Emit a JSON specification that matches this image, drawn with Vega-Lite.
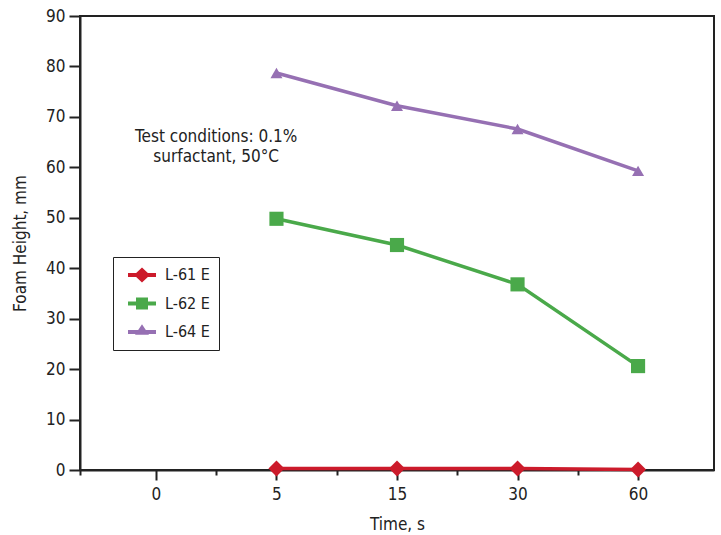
{
  "$schema": "https://vega.github.io/schema/vega-lite/v6.json",
  "width": 634,
  "height": 454,
  "autosize": {"type": "none"},
  "padding": {"left": 80, "top": 16, "right": 7, "bottom": 65},
  "background": "white",
  "config": {
    "font": "Liberation Sans Narrow, DejaVu Sans Condensed, Roboto",
    "view": {"stroke": "#222", "strokeWidth": 2},
    "axis": {"domainColor": "#222", "domainWidth": 2, "tickColor": "#222", "tickWidth": 2, "grid": false, "labelColor": "#222", "titleColor": "#222", "labelFont": "Liberation Sans Narrow, DejaVu Sans Condensed, Roboto", "titleFont": "Liberation Sans Narrow, DejaVu Sans Condensed, Roboto", "titleFontWeight": "normal"},
    "legend": {"labelFont": "Liberation Sans Narrow, DejaVu Sans Condensed, Roboto"}
  },
  "layer": [
    {
      "data": {
        "values": [
          {"time": "5", "height": 0.3, "series": "L-61 E"},
          {"time": "15", "height": 0.3, "series": "L-61 E"},
          {"time": "30", "height": 0.3, "series": "L-61 E"},
          {"time": "60", "height": 0.1, "series": "L-61 E"},
          {"time": "5", "height": 49.8, "series": "L-62 E"},
          {"time": "15", "height": 44.6, "series": "L-62 E"},
          {"time": "30", "height": 36.8, "series": "L-62 E"},
          {"time": "60", "height": 20.6, "series": "L-62 E"},
          {"time": "5", "height": 78.7, "series": "L-64 E"},
          {"time": "15", "height": 72.2, "series": "L-64 E"},
          {"time": "30", "height": 67.6, "series": "L-64 E"},
          {"time": "60", "height": 59.3, "series": "L-64 E"}
        ]
      },
      "encoding": {
        "x": {
          "field": "time", "type": "ordinal",
          "scale": {"type": "point", "domain": ["0", "5", "15", "30", "60"], "padding": 0.63},
          "axis": {"title": "Time, s", "labelAngle": 0, "labelFontSize": 17, "titleFontSize": 17, "tickSize": 10, "labelPadding": 6, "titlePadding": 14, "domain": true}
        },
        "y": {
          "field": "height", "type": "quantitative",
          "scale": {"domain": [0, 90], "nice": false},
          "axis": {"title": "Foam Height, mm", "values": [0, 10, 20, 30, 40, 50, 60, 70, 80, 90], "labelFontSize": 17, "titleFontSize": 17, "tickSize": 11, "labelPadding": 4, "titlePadding": 16}
        },
        "color": {
          "field": "series", "type": "nominal",
          "scale": {"domain": ["L-61 E", "L-62 E", "L-64 E"], "range": ["#cc1b2b", "#4aa94a", "#9670b3"]},
          "legend": null
        }
      },
      "layer": [
        {
          "mark": {"type": "line", "strokeWidth": 3.5}
        },
        {
          "mark": {"type": "point", "filled": true, "opacity": 1},
          "encoding": {
            "shape": {
              "field": "series", "type": "nominal",
              "scale": {"domain": ["L-61 E", "L-62 E", "L-64 E"], "range": ["diamond", "square", "triangle-up"]},
              "legend": null
            },
            "size": {"field": "series", "type": "nominal", "scale": {"domain": ["L-61 E", "L-62 E", "L-64 E"], "range": [256, 144, 196]}, "legend": null}
          }
        },
        {
          "mark": {"type": "point", "filled": true, "opacity": 0},
          "encoding": {
            "color": {
              "field": "series", "type": "nominal",
              "legend": {"orient": "none", "legendX": 33, "legendY": 241, "title": null, "clipHeight": 18, "symbolSize": 784, "symbolOpacity": 1, "symbolStrokeWidth": 0, "labelFontSize": 16, "labelColor": "#222", "padding": 9, "rowPadding": 10.5, "strokeColor": "#222", "labelOffset": 9, "symbolOffset": 6}
            },
            "shape": {
              "field": "series", "type": "nominal",
              "scale": {"domain": ["L-61 E", "L-62 E", "L-64 E"], "range": [
                "M-1,-0.143H1V0.143H-1Z M-0.571,0L0,-0.536L0.571,0L0,0.536Z",
                "M-1,-0.143H1V0.143H-1Z M-0.429,-0.429H0.429V0.429H-0.429Z",
                "M-1,-0.143H1V0.143H-1Z M-0.5,0.2L0,-0.55L0.5,0.2Z"
              ]},
              "legend": {"orient": "none", "legendX": 33, "legendY": 241, "title": null, "clipHeight": 18, "symbolSize": 784, "symbolOpacity": 1, "symbolStrokeWidth": 0, "labelFontSize": 16, "labelColor": "#222", "padding": 9, "rowPadding": 10.5, "strokeColor": "#222", "labelOffset": 9, "symbolOffset": 6}
            }
          }
        }
      ],
      "resolve": {"scale": {"shape": "independent"}, "legend": {"color": "independent", "shape": "independent"}}
    },
    {
      "data": {"values": [{"note": ["Test conditions: 0.1%", "surfactant, 50°C"]}]},
      "mark": {"type": "text", "fontSize": 17, "color": "#222", "align": "center", "baseline": "middle", "lineHeight": 20},
      "encoding": {
        "x": {
          "datum": 0.5, "type": "quantitative",
          "scale": {"domain": [-0.63, 4.63], "nice": false, "zero": false},
          "axis": {"orient": "bottom", "values": [-0.63, 0.5, 1.5, 2.5, 3.5], "labels": false, "domain": false, "tickSize": 5, "title": null, "grid": false}
        },
        "y": {"datum": 66, "type": "quantitative"},
        "text": {"field": "note"}
      }
    }
  ],
  "resolve": {"scale": {"x": "independent"}, "axis": {"x": "independent"}}
}
